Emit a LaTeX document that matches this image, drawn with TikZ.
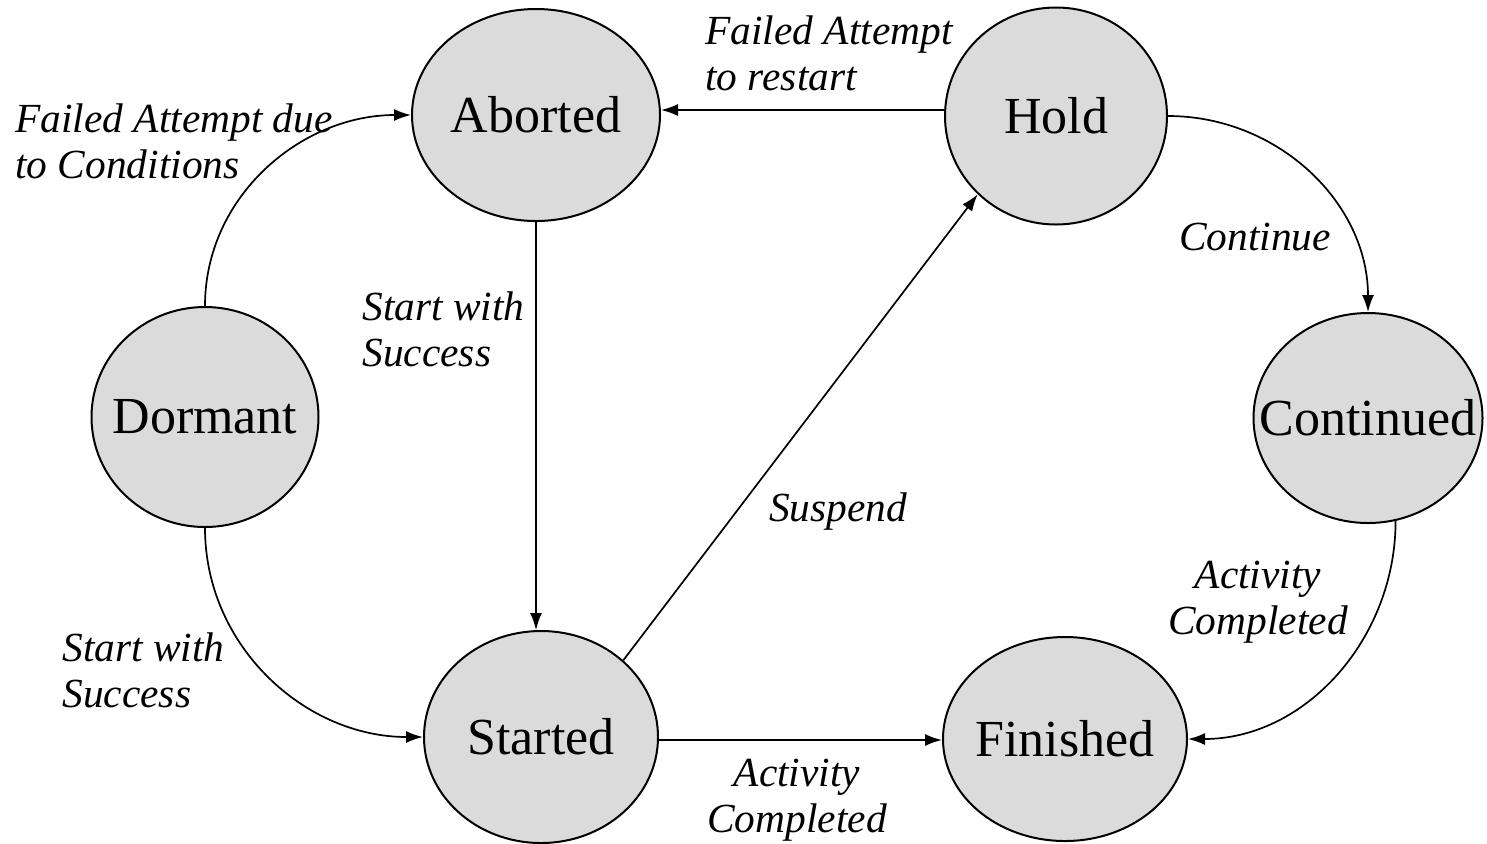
\documentclass[tikz,border=0pt]{standalone}
\usepackage{fontspec}
\setmainfont{Liberation Serif}
\usetikzlibrary{shapes.geometric,arrows.meta}
\begin{document}
\begin{tikzpicture}[x=0.5pt,y=-0.5pt,
  state/.style={ellipse,draw=black,line width=1pt,fill=black!14,inner sep=0pt,font=\fontsize{26}{30}\selectfont},
  lbl/.style={font=\fontsize{20.7}{23}\selectfont\itshape,inner sep=0pt},
  conn/.style={line width=0.85pt,-{Latex[length=8.5pt,width=6pt]}}]
\useasboundingbox (0,0) rectangle (1487,843);
\node[state,minimum width=124pt,minimum height=106pt] (ab) at (536,115) {\makebox[0pt]{Aborted}};
\node[state,minimum width=111pt,minimum height=108.5pt] (ho) at (1056,116) {\makebox[0pt]{Hold}};
\node[state,minimum width=113.5pt,minimum height=110pt] (dor) at (205,417) {\makebox[0pt]{Dormant}};
\node[state,minimum width=114.5pt,minimum height=105pt] (co) at (1368,418) {\makebox[0pt]{Continued}};
\node[state,minimum width=117pt,minimum height=106pt] (st) at (541,737) {\makebox[0pt]{Started}};
\node[state,minimum width=122pt,minimum height=102pt] (fi) at (1065,739) {\makebox[0pt]{Finished}};

\draw[conn] (dor.north) to[out=90,in=180] (ab.west);
\draw[conn] (dor.south) to[out=-90,in=180] (st.west);
\draw[conn] (ab.south) -- (ab.south |- st.north);
\draw[conn] (st.43) -- (ho.-135);
\draw[conn] (ho.west |- 0,110) -- (ab.east |- 0,110);
\draw[conn] (ho.east) to[out=0,in=90] (co.north);
\draw[conn] (co.-75) to[out=-90,in=0] (fi.east);
\draw[conn] (st.east |- 0,740) -- (fi.west |- 0,740);

\node[lbl,anchor=west,align=left] (l1) at (15,141) {Failed Attempt due\\to Conditions};
\node[lbl,anchor=west,align=left] (l2) at (705,53) {Failed Attempt\\to restart};
\node[lbl,anchor=west,align=left] (l3) at (362,329) {Start with\\Success};
\node[lbl] (l4) at (838,512) {Suspend};
\node[lbl] (l5) at (1255,237) {Continue};
\node[lbl,align=center] (l6) at (1258,602) {Activity\\Completed};
\node[lbl,anchor=west,align=left] (l7) at (62,670) {Start with\\Success};
\node[lbl,align=center] (l8) at (797,800) {Activity\\Completed};
\end{tikzpicture}
\end{document}
